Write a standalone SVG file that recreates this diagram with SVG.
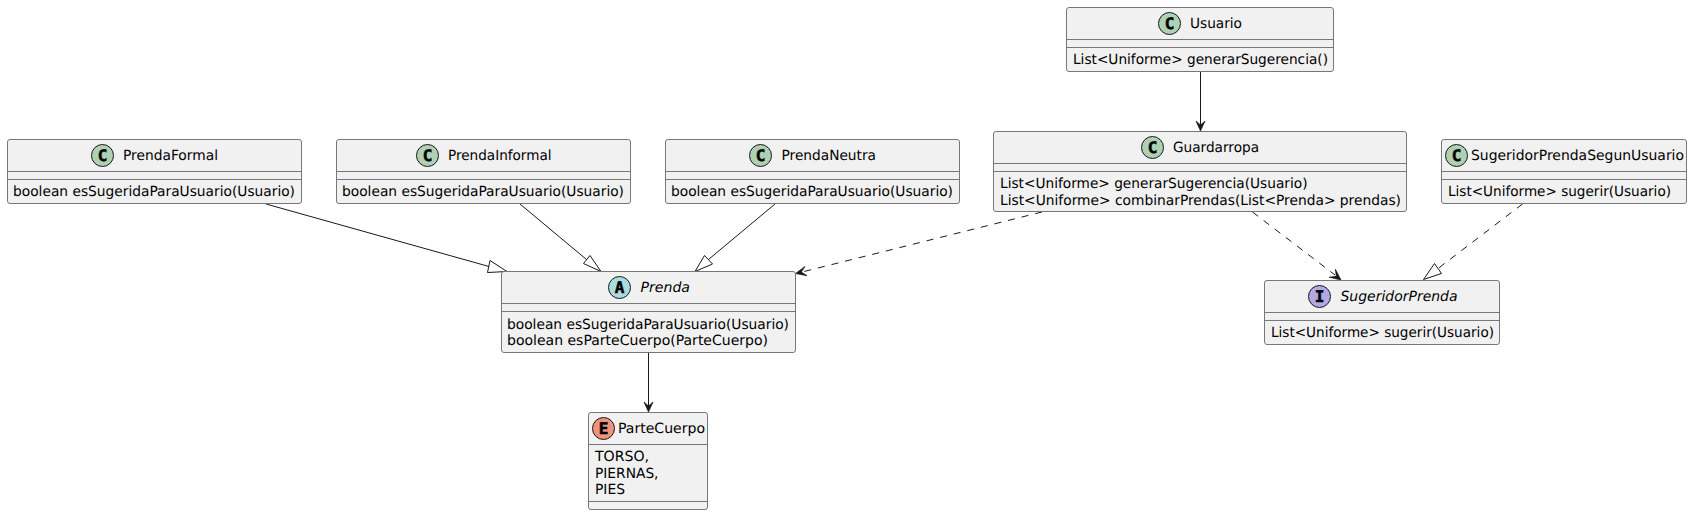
<svg xmlns="http://www.w3.org/2000/svg" width="1692" height="515" viewBox="0 0 1692 515">
<style>
text{font-family:"DejaVu Sans",sans-serif;font-size:14px;fill:#000;text-rendering:geometricPrecision}
.i{font-style:italic}
.box{fill:#F1F1F1;stroke:#777;stroke-width:1}
.d{stroke:#777;stroke-width:1;fill:none}
.s{stroke:#181818;stroke-width:1;fill:none}
.dash{stroke-dasharray:7,7}
text.g{font-family:"DejaVu Sans Mono",monospace;font-weight:bold;font-size:16px;text-anchor:middle;stroke:#000;stroke-width:.5}
.cl{fill:#ADD1B2;stroke:#181818}
.h{fill:#181818;stroke:#181818;stroke-width:.7;stroke-linejoin:round}
.t{fill:none;stroke:#181818;stroke-width:1}
</style>
<g id="connectors">
<path class="s" d="M1200.500,71.500 L1200.500,125"/><path class="h" d="M1200.500,131 L1196,121 L1200.500,125 L1205,121 Z"/>
<path class="s dash" d="M1042,212 L802,272"/><path class="h" d="M795.500,273.500 L807,275.700 L801.300,272 L805,266.500 Z"/>
<path class="s dash" d="M1252.500,212 L1335,275"/><path class="h" d="M1341,280 L1335.400,269.300 L1336.300,276.300 L1329.200,277.200 Z"/>
<path class="s dash" d="M1522.500,204 L1438,268.500"/><path class="t" d="M1423.500,279.500 L1434.500,263.500 L1441.500,273.500 Z"/>
<path class="s" d="M266,204 L489,266.500"/><path class="t" d="M507,271.500 L490,260.500 L487.500,272.500 Z"/>
<path class="s" d="M520,204 L586.500,259.500"/><path class="t" d="M601,271.500 L590,255.500 L583.500,263.500 Z"/>
<path class="s" d="M775,204 L708.500,259.500"/><path class="t" d="M695,271.500 L704.500,255.500 L712.500,264 Z"/>
<path class="s" d="M648.500,352.500 L648.500,406"/><path class="h" d="M648.500,412 L644,402 L648.500,406 L653,402 Z"/>
</g>
<g id="Usuario">
<rect class="box" x="1066.500" y="7.500" width="267" height="64" rx="2.500"/>
<circle class="cl" cx="1169.500" cy="23.500" r="11"/>
<text class="g" x="1169.500" y="29">C</text>
<text x="1190" y="28" textLength="52" lengthAdjust="spacingAndGlyphs">Usuario</text>
<path class="d" d="M1066.500,39.500H1333.500M1066.500,47.500H1333.500"/>
<text x="1073" y="64" textLength="255" lengthAdjust="spacingAndGlyphs">List&lt;Uniforme&gt; generarSugerencia()</text>
</g>
<g id="Guardarropa">
<rect class="box" x="993.500" y="131.500" width="413" height="80" rx="2.500"/>
<circle class="cl" cx="1152.500" cy="147.500" r="11"/>
<text class="g" x="1152.500" y="153">C</text>
<text x="1173" y="152" textLength="86" lengthAdjust="spacingAndGlyphs">Guardarropa</text>
<path class="d" d="M993.500,163.500H1406.500M993.500,171.500H1406.500"/>
<text x="1000" y="188" textLength="307.500" lengthAdjust="spacingAndGlyphs">List&lt;Uniforme&gt; generarSugerencia(Usuario)</text>
<text x="1000" y="205" textLength="401" lengthAdjust="spacingAndGlyphs">List&lt;Uniforme&gt; combinarPrendas(List&lt;Prenda&gt; prendas)</text>
</g>
<g id="SugeridorPrendaSegunUsuario">
<rect class="box" x="1441.500" y="139.500" width="245" height="64" rx="2.500"/>
<circle class="cl" cx="1456.500" cy="155.500" r="11"/>
<text class="g" x="1456.500" y="161">C</text>
<text x="1471" y="160" textLength="213" lengthAdjust="spacingAndGlyphs">SugeridorPrendaSegunUsuario</text>
<path class="d" d="M1441.500,171.500H1686.500M1441.500,179.500H1686.500"/>
<text x="1448" y="196" textLength="223" lengthAdjust="spacingAndGlyphs">List&lt;Uniforme&gt; sugerir(Usuario)</text>
</g>
<g id="SugeridorPrenda">
<rect class="box" x="1264.500" y="280.500" width="235" height="64" rx="2.500"/>
<circle cx="1319.500" cy="296.500" r="11" fill="#B4A7E5" stroke="#181818"/>
<text class="g" x="1319.500" y="302">I</text>
<text class="i" x="1340.500" y="301" textLength="117" lengthAdjust="spacingAndGlyphs">SugeridorPrenda</text>
<path class="d" d="M1264.500,312.500H1499.500M1264.500,320.500H1499.500"/>
<text x="1271" y="337" textLength="223" lengthAdjust="spacingAndGlyphs">List&lt;Uniforme&gt; sugerir(Usuario)</text>
</g>
<g id="PrendaFormal">
<rect class="box" x="7.500" y="139.500" width="294" height="64" rx="2.500"/>
<circle class="cl" cx="102.500" cy="155.500" r="11"/>
<text class="g" x="102.500" y="161">C</text>
<text x="123" y="160" textLength="95" lengthAdjust="spacingAndGlyphs">PrendaFormal</text>
<path class="d" d="M7.500,171.500H301.500M7.500,179.500H301.500"/>
<text x="13" y="196" textLength="282" lengthAdjust="spacingAndGlyphs">boolean esSugeridaParaUsuario(Usuario)</text>
</g>
<g id="PrendaInformal">
<rect class="box" x="336.500" y="139.500" width="294" height="64" rx="2.500"/>
<circle class="cl" cx="427.500" cy="155.500" r="11"/>
<text class="g" x="427.500" y="161">C</text>
<text x="448" y="160" textLength="103.500" lengthAdjust="spacingAndGlyphs">PrendaInformal</text>
<path class="d" d="M336.500,171.500H630.500M336.500,179.500H630.500"/>
<text x="342" y="196" textLength="282" lengthAdjust="spacingAndGlyphs">boolean esSugeridaParaUsuario(Usuario)</text>
</g>
<g id="PrendaNeutra">
<rect class="box" x="665.500" y="139.500" width="294" height="64" rx="2.500"/>
<circle class="cl" cx="760.500" cy="155.500" r="11"/>
<text class="g" x="760.500" y="161">C</text>
<text x="781.500" y="160" textLength="94.500" lengthAdjust="spacingAndGlyphs">PrendaNeutra</text>
<path class="d" d="M665.500,171.500H959.500M665.500,179.500H959.500"/>
<text x="671" y="196" textLength="282" lengthAdjust="spacingAndGlyphs">boolean esSugeridaParaUsuario(Usuario)</text>
</g>
<g id="Prenda">
<rect class="box" x="501.500" y="271.500" width="294" height="81" rx="2.500"/>
<circle cx="619.500" cy="287.500" r="11" fill="#A9DCDF" stroke="#181818"/>
<text class="g" x="619.500" y="293">A</text>
<text class="i" x="640.500" y="292" textLength="49.500" lengthAdjust="spacingAndGlyphs">Prenda</text>
<path class="d" d="M501.500,303.500H795.500M501.500,311.500H795.500"/>
<text x="507" y="329" textLength="282" lengthAdjust="spacingAndGlyphs">boolean esSugeridaParaUsuario(Usuario)</text>
<text x="507" y="345" textLength="261" lengthAdjust="spacingAndGlyphs">boolean esParteCuerpo(ParteCuerpo)</text>
</g>
<g id="ParteCuerpo">
<rect class="box" x="588.500" y="412.500" width="119" height="97" rx="2.500"/>
<circle cx="603.500" cy="428.500" r="11" fill="#EB937F" stroke="#181818"/>
<text class="g" x="603.500" y="434">E</text>
<text x="618" y="433" textLength="87" lengthAdjust="spacingAndGlyphs">ParteCuerpo</text>
<path class="d" d="M588.500,444.500H707.500M588.500,501.500H707.500"/>
<text x="595" y="461" textLength="54" lengthAdjust="spacingAndGlyphs">TORSO,</text>
<text x="595" y="478" textLength="63.500" lengthAdjust="spacingAndGlyphs">PIERNAS,</text>
<text x="595" y="494" textLength="30" lengthAdjust="spacingAndGlyphs">PIES</text>
</g>
</svg>
